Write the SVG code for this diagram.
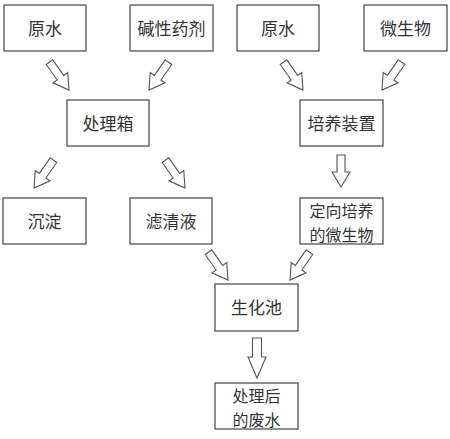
<svg xmlns="http://www.w3.org/2000/svg" width="450" height="439" viewBox="0 0 450 439">
<defs>
<style>
.box rect{fill:#fff;stroke:#444;stroke-width:1.2}
.box text{font-family:"Noto Sans CJK SC","Noto Sans",sans-serif;font-size:17px;fill:#333;text-anchor:middle}
.box text.two{font-size:16px}
.arr path,.arr use{fill:#fff;stroke:#555;stroke-width:1.1;stroke-linejoin:miter}
</style>
<path id="da" d="M-4,-34 H4 V-15 H9 L0,0 L-9,-15 H-4 Z"/>
</defs>
<rect width="450" height="439" fill="#fff"/>
<g id="n1" class="box"><rect x="4" y="5" width="82" height="46"/><text x="45" y="34.5">原水</text></g>
<g id="n2" class="box"><rect x="130" y="5" width="83" height="46"/><text x="171.5" y="34.5">碱性药剂</text></g>
<g id="n3" class="box"><rect x="237" y="5" width="82" height="46"/><text x="278" y="34.5">原水</text></g>
<g id="n4" class="box"><rect x="364" y="5" width="83" height="46"/><text x="405.5" y="34.5">微生物</text></g>
<g id="n5" class="box"><rect x="67" y="100" width="82" height="46"/><text x="108" y="129.5">处理箱</text></g>
<g id="n6" class="box"><rect x="300" y="100" width="83" height="46"/><text x="341.5" y="129.5">培养装置</text></g>
<g id="n7" class="box"><rect x="3" y="198" width="83" height="46"/><text x="44.5" y="227.5">沉淀</text></g>
<g id="n8" class="box"><rect x="130" y="198" width="82" height="46"/><text x="171" y="227.5">滤清液</text></g>
<g id="n9" class="box"><rect x="300" y="198" width="83" height="46"/><text class="two" x="341.5" y="217">定向培养</text><text class="two" x="341.5" y="241">的微生物</text></g>
<g id="n10" class="box"><rect x="215" y="284" width="83" height="47"/><text x="256.5" y="313.5">生化池</text></g>
<g id="n11" class="box"><rect x="215" y="383" width="83" height="46"/><text class="two" x="256.5" y="402">处理后</text><text class="two" x="256.5" y="426">的废水</text></g>
<g id="connectors" class="arr">
<use href="#da" transform="translate(69,90) rotate(-35)"/>
<use href="#da" transform="translate(149,90) rotate(35)"/>
<use href="#da" transform="translate(303,90) rotate(-35)"/>
<use href="#da" transform="translate(382,90) rotate(35)"/>
<use href="#da" transform="translate(34,188) rotate(35)"/>
<use href="#da" transform="translate(185,188) rotate(-35)"/>
<use href="#da" transform="translate(228,280) rotate(-35)"/>
<use href="#da" transform="translate(290,280) rotate(35)"/>
<path d="M337,155 H345 V172 H350 L341,187 L332,172 H337 Z"/>
<path d="M252.5,338 H261.5 V357 H266 L257,378 L248,357 H252.5 Z"/>
</g>
</svg>
